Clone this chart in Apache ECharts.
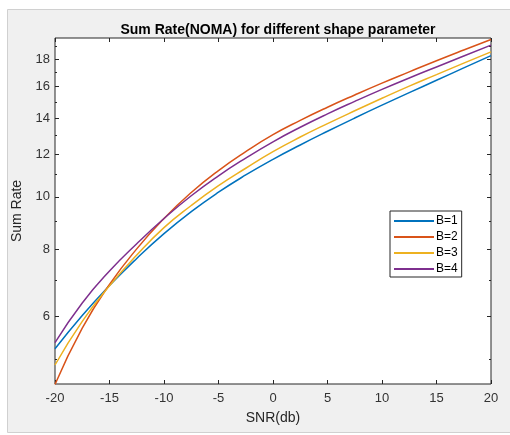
<!DOCTYPE html>
<html>
<head>
<meta charset="utf-8">
<script src="https://cdn.jsdelivr.net/npm/echarts@6/dist/echarts.min.js"></script>
<style>
  html, body { margin: 0; padding: 0; background: #fff; }
  #chart { width: 510px; height: 435px; }
</style>
</head>
<body>
<div id="chart"></div>
<script>
// SNR in dB
var snr = [-20, -17.5, -15, -12.5, -10, -7.5, -5, -2.5, 0, 2.5, 5, 7.5, 10, 12.5, 15, 17.5, 20]
// sum rate for each shape parameter B
var rateB1 = [5.23, 6.03, 6.85, 7.69, 8.55, 9.39, 10.2, 10.98, 11.74, 12.48, 13.23, 14.0, 14.79, 15.6, 16.45, 17.34, 18.27]
var rateB2 = [4.49, 5.71, 6.88, 8.01, 9.12, 10.19, 11.19, 12.13, 13.04, 13.86, 14.66, 15.45, 16.25, 17.05, 17.88, 18.72, 19.58]
var rateB3 = [4.88, 5.88, 6.84, 7.8, 8.77, 9.64, 10.49, 11.3, 12.13, 12.91, 13.67, 14.44, 15.23, 16.04, 16.85, 17.7, 18.57]
var rateB4 = [5.37, 6.36, 7.29, 8.19, 9.12, 10.05, 10.94, 11.8, 12.65, 13.46, 14.25, 15.03, 15.82, 16.61, 17.41, 18.24, 19.11]
var seriesNames = ['B=1', 'B=2', 'B=3', 'B=4']
var yMajorTicks = [6, 8, 10, 12, 14, 16, 18]
var yMinorTicks = [5, 6, 7, 8, 9, 10, 11, 12, 13, 14, 15, 16, 17, 18, 19]

var font = 'Liberation Sans, Arial, Helvetica, sans-serif'
var axisColor = '#262626'
var colors = ['#0072BD', '#D95319', '#EDB120', '#7E2F8E']

function pairs(xs, ys) {
  return xs.map(function (x, i) { return [x, ys[i]] })
}

function yAxisBase(extra) {
  return Object.assign({
    type: 'log',
    min: 4.5,
    max: 19.7,
    splitLine: { show: false },
    axisLine: { show: false, onZero: false },
    axisLabel: { show: false }
  }, extra)
}

var chart = echarts.init(document.getElementById('chart'))
var rates = [rateB1, rateB2, rateB3, rateB4]

chart.setOption({
  animation: false,
  backgroundColor: '#fff',
  graphic: [{
    type: 'rect',
    z: -10,
    shape: { x: 7.5, y: 9.5, width: 510, height: 423 },
    style: { fill: '#f0f0f0', stroke: '#d0d0d0', lineWidth: 1 }
  }],
  title: {
    text: 'Sum Rate(NOMA) for different shape parameter',
    left: 273,
    top: 18,
    textAlign: 'center',
    textStyle: { fontFamily: font, fontSize: 14, fontWeight: 'bold', color: '#000' }
  },
  legend: {
    orient: 'vertical',
    left: 390,
    top: 211,
    itemWidth: 40,
    itemHeight: 14,
    itemGap: 0,
    padding: [2, 4, 0, 3],
    backgroundColor: '#fff',
    borderColor: axisColor,
    borderWidth: 1,
    borderRadius: 0,
    itemStyle: { opacity: 0 },
    textStyle: { fontFamily: font, fontSize: 12, color: '#000', padding: [0, 0, 0, -3], lineHeight: 16 },
    data: seriesNames
  },
  grid: {
    left: 55,
    right: 19,
    top: 38,
    bottom: 51,
    show: true,
    backgroundColor: '#fff',
    borderColor: axisColor,
    borderWidth: 1
  },
  xAxis: [{
    type: 'value',
    min: -20,
    max: 20,
    interval: 5,
    position: 'bottom',
    name: 'SNR(db)',
    nameLocation: 'middle',
    nameGap: 27,
    nameTextStyle: { fontFamily: font, fontSize: 14, color: axisColor },
    axisLine: { show: false, onZero: false },
    axisTick: { inside: true, length: 4, lineStyle: { color: axisColor } },
    axisLabel: { fontFamily: font, fontSize: 13, color: '#333', margin: 8 },
    splitLine: { show: false }
  }, {
    type: 'value',
    min: -20,
    max: 20,
    interval: 5,
    position: 'top',
    axisLine: { show: false, onZero: false },
    axisTick: { inside: true, length: 4, lineStyle: { color: axisColor } },
    axisLabel: { show: false },
    splitLine: { show: false }
  }],
  yAxis: [
    yAxisBase({
      position: 'left',
      name: 'Sum Rate',
      nameLocation: 'middle',
      nameGap: 26,
      nameTextStyle: { fontFamily: font, fontSize: 14, color: axisColor },
      axisTick: { inside: true, length: 4, customValues: yMajorTicks, lineStyle: { color: axisColor } },
      axisLabel: { show: true, customValues: yMajorTicks, fontFamily: font, fontSize: 13, color: '#333', margin: 5 }
    }),
    yAxisBase({
      position: 'left',
      axisTick: { inside: true, length: 2, customValues: yMinorTicks, lineStyle: { color: axisColor } }
    }),
    yAxisBase({
      position: 'right',
      axisTick: { inside: true, length: 4, customValues: yMajorTicks, lineStyle: { color: axisColor } }
    }),
    yAxisBase({
      position: 'right',
      axisTick: { inside: true, length: 2, customValues: yMinorTicks, lineStyle: { color: axisColor } }
    })
  ],
  series: rates.map(function (r, i) {
    return {
      name: seriesNames[i],
      type: 'line',
      xAxisIndex: 0,
      yAxisIndex: 0,
      smooth: true,
      symbol: 'none',
      color: colors[i],
      lineStyle: { width: 1.5, color: colors[i] },
      data: pairs(snr, r)
    }
  })
})
</script>
</body>
</html>
